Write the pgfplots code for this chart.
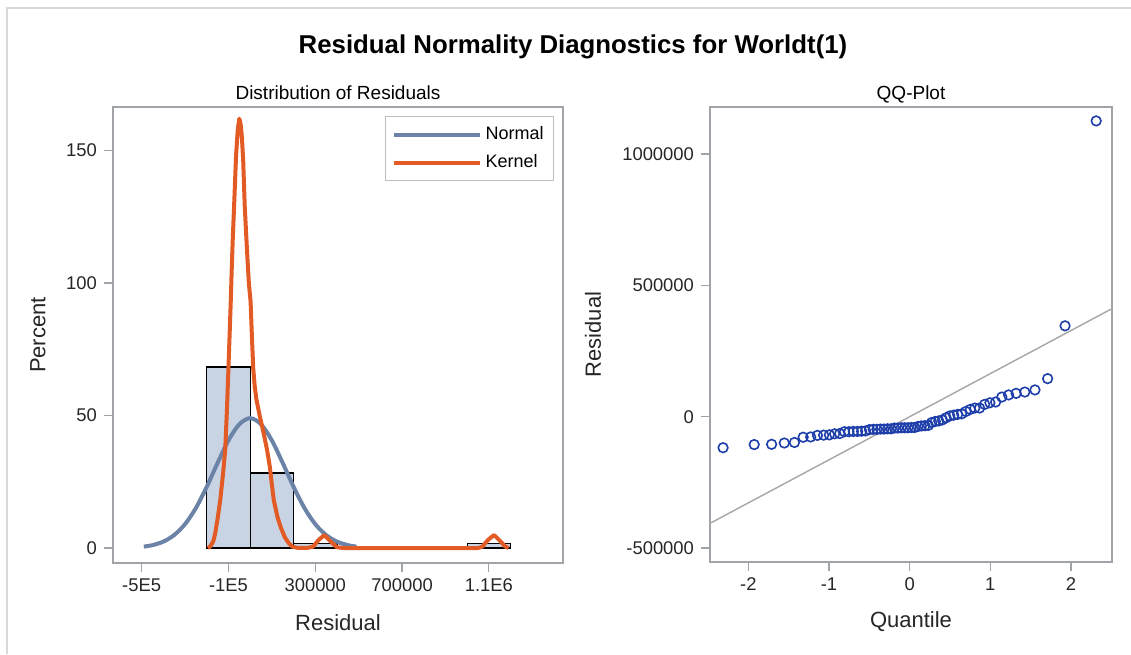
\documentclass[border=0pt]{standalone}
\usepackage{pgfplots}
\pgfplotsset{compat=1.18}
\usepackage{fontspec}
\setmainfont{Liberation Sans}

\definecolor{barfill}{RGB}{200,212,228}
\definecolor{normline}{RGB}{108,131,168}
\definecolor{kernline}{RGB}{226,90,36}
\definecolor{qqblue}{RGB}{30,62,170}
\definecolor{frame}{RGB}{160,164,168}

\pgfplotsset{
  sasaxis/.style={
    scale only axis, axis line style={frame, line width=0.8pt},
    tick align=outside, major tick length=4.5pt,
    tick style={frame, line width=0.6pt},
    xtick pos=bottom, ytick pos=left,
    scaled ticks=false, clip=true,
    ticklabel style={font=\fontsize{9.2}{10}\selectfont, text=black!85},
    label style={font=\fontsize{11}{12}\selectfont, text=black!85},
    title style={font=\fontsize{9.5}{10}\selectfont, at={(axis description cs:0.5,1)}, anchor=base, yshift=-2pt},
  }
}

\begin{document}
\begin{tikzpicture}
\path[use as bounding box] (0,0) rectangle (565.5pt,-327pt);
\draw[black!15, line width=0.8pt] (3.5pt,-327pt) -- (3.5pt,-4pt) -- (565.5pt,-4pt);

\node[font=\bfseries\fontsize{12.9}{14}\selectfont] at (286.5pt,-23.5pt) {Residual Normality Diagnostics for Worldt(1)};

% distribution of residuals
\begin{axis}[sasaxis,
  at={(56.5pt,-281.5pt)}, anchor=south west,
  width=225pt, height=228pt,
  title={Distribution of Residuals},
  xmin=-632000, xmax=1441500, ymin=-5.66, ymax=166.4,
  xtick={-500000,-100000,300000,700000,1100000},
  xticklabels={-5E5,-1E5,300000,700000,1.1E6},
  ytick={0,50,100,150}, yticklabels={0,50,100,150},
  xlabel={Residual}, ylabel={Percent},
  xlabel style={at={(axis description cs:0.5,-0.1316)}, anchor=center},
  ylabel style={at={(axis description cs:-0.1667,0.5)}, anchor=center},
  legend style={at={(axis description cs:0.98,0.98)}, anchor=north east,
    draw=black!25, font=\fontsize{9}{10}\selectfont, row sep=2pt,
    inner xsep=3pt, inner ysep=3pt},
  legend cell align=left,
  legend image code/.code={\draw[#1] (0pt,0pt) -- (43pt,0pt);},
]
\addplot[ybar interval, fill=barfill, draw=black, line width=0.6pt, forget plot]
  coordinates {(-200000,68.33)(0,28.33)(200000,1.67)(400000,1.67)};
\addplot[ybar interval, fill=barfill, draw=black, line width=0.6pt, forget plot]
  coordinates {(1000000,1.67)(1200000,1.67)};
\addplot[normline, line width=2pt, smooth] coordinates {
  (-490000,0.53)(-450000,1.08)(-400000,2.41)(-350000,4.89)(-300000,9.0)
  (-250000,15.1)(-200000,23.1)(-150000,32.1)(-100000,40.6)(-50000,46.7)
  (0,49.0)(50000,46.7)(100000,40.6)(150000,32.1)(200000,23.1)(250000,15.1)
  (300000,9.0)(350000,4.89)(400000,2.41)(450000,1.08)(490000,0.53)};
\addlegendentry{Normal}
\addplot[kernline, line width=2pt, line join=round] coordinates {
  (-195000,0)(-185000,0.5)(-170000,2.5)(-161000,5.6)(-150000,11)(-138000,18)
  (-125000,28)(-115000,37)(-107000,52)(-100000,68)(-94000,82)(-89000,94)
  (-85000,105)(-80000,117)(-74000,129)(-65000,148)(-57000,158)(-50000,162)
  (-44000,160)(-38000,155)(-32000,146)(-25000,129)(-15000,113)(-6000,100)
  (2000,93)(8000,80)(14000,68)(21000,61)(29000,56)(45000,49.5)(63000,43)
  (78000,37)(90000,31)(100000,24)(109000,18)(125000,12)(140000,8)
  (160000,4)(178000,1.8)(195000,0.5)(215000,0.1)(260000,0)(290000,0.5)
  (315000,3)(342000,4.9)(370000,2.5)(400000,0.3)(430000,0)(1050000,0)
  (1070000,0.5)(1095000,3)(1124000,4.9)(1150000,2.8)(1175000,0.6)(1190000,0)};
\addlegendentry{Kernel}
\end{axis}

% QQ plot
\begin{axis}[sasaxis,
  at={(355pt,-281pt)}, anchor=south west,
  width=201pt, height=227.5pt,
  title={QQ-Plot},
  xmin=-2.475, xmax=2.509, ymin=-553000, ymax=1179000,
  xtick={-2,-1,0,1,2}, xticklabels={-2,-1,0,1,2},
  ytick={-500000,0,500000,1000000},
  yticklabels={-500000,0,500000,1000000},
  xlabel={Quantile}, ylabel={Residual},
  xlabel style={at={(axis description cs:0.5,-0.1319)}, anchor=center},
  ylabel style={at={(axis description cs:-0.291,0.5)}, anchor=center},
]
\addplot[black!35, line width=0.7pt] coordinates {(-2.6,-426400)(2.6,426400)};
\addplot[only marks, mark=o, mark size=2.4pt, qqblue, mark options={line width=0.8pt}]
  coordinates {
  (-2.313,-118000)(-1.927,-106000)(-1.711,-105000)(-1.554,-100000)(-1.428,-98000)
  (-1.320,-78000)(-1.227,-77000)(-1.143,-71000)(-1.066,-70000)(-0.995,-69000)
  (-0.930,-65000)(-0.867,-64000)(-0.808,-57000)(-0.752,-57000)(-0.698,-56000)
  (-0.645,-56000)(-0.595,-55000)(-0.546,-54000)(-0.498,-49000)(-0.452,-48000)
  (-0.406,-48000)(-0.361,-47000)(-0.318,-47000)(-0.274,-46000)(-0.231,-46000)
  (-0.189,-43000)(-0.146,-43000)(-0.104,-42000)(-0.062,-42000)(-0.021,-42000)
  (0.021,-41000)(0.062,-41000)(0.104,-37000)(0.146,-35000)(0.189,-34000)
  (0.231,-33000)(0.274,-22000)(0.318,-18000)(0.361,-16000)(0.406,-12000)
  (0.452,-4000)(0.498,3000)(0.546,6000)(0.595,9000)(0.645,11000)
  (0.698,20000)(0.752,28000)(0.808,33000)(0.867,33000)(0.930,47000)
  (0.995,53000)(1.066,56000)(1.143,75000)(1.227,83000)(1.320,89000)
  (1.428,94000)(1.554,102000)(1.711,145000)(1.927,346000)(2.313,1126000)};
\end{axis}
\end{tikzpicture}
\end{document}
